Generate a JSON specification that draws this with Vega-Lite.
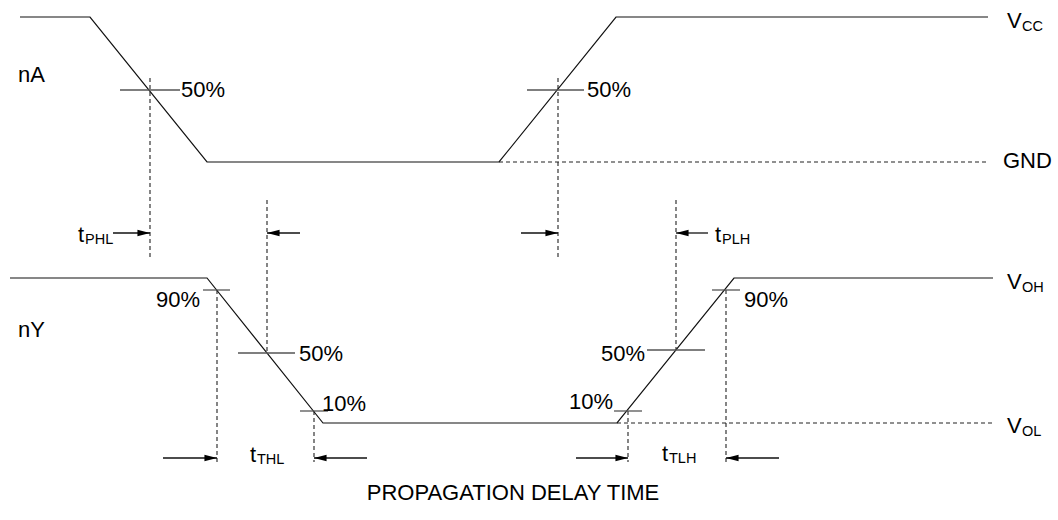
{
  "$schema": "https://vega.github.io/schema/vega-lite/v6.json",
  "width": 1058,
  "height": 520,
  "autosize": {"type": "fit", "contains": "padding"},
  "padding": 0,
  "background": "white",
  "config": {"view": {"stroke": null}, "font": "Liberation Sans"},
  "datasets": {
    "waves": [
      {"sig": "nA", "i": 0, "x": 20, "y": 17},
      {"sig": "nA", "i": 1, "x": 90, "y": 17},
      {"sig": "nA", "i": 2, "x": 207, "y": 162},
      {"sig": "nA", "i": 3, "x": 499, "y": 162},
      {"sig": "nA", "i": 4, "x": 616, "y": 17},
      {"sig": "nA", "i": 5, "x": 988, "y": 17},
      {"sig": "nY", "i": 0, "x": 10, "y": 278},
      {"sig": "nY", "i": 1, "x": 207, "y": 278},
      {"sig": "nY", "i": 2, "x": 323, "y": 423},
      {"sig": "nY", "i": 3, "x": 617, "y": 423},
      {"sig": "nY", "i": 4, "x": 734, "y": 278},
      {"sig": "nY", "i": 5, "x": 993, "y": 278}
    ],
    "dashed": [
      {"x": 499, "y": 162, "x2": 988, "y2": 162},
      {"x": 617, "y": 423, "x2": 993, "y2": 423},
      {"x": 150, "y": 78, "x2": 150, "y2": 258},
      {"x": 558, "y": 78, "x2": 558, "y2": 258},
      {"x": 267, "y": 200, "x2": 267, "y2": 352},
      {"x": 676, "y": 200, "x2": 676, "y2": 350},
      {"x": 217, "y": 290, "x2": 217, "y2": 462},
      {"x": 314, "y": 411, "x2": 314, "y2": 462},
      {"x": 628, "y": 411, "x2": 628, "y2": 462},
      {"x": 726, "y": 290, "x2": 726, "y2": 462}
    ],
    "ticks": [
      {"x": 120, "x2": 180, "y": 90},
      {"x": 527, "x2": 584, "y": 90},
      {"x": 203, "x2": 230, "y": 290},
      {"x": 238, "x2": 295, "y": 353},
      {"x": 300, "x2": 328, "y": 411},
      {"x": 614, "x2": 642, "y": 411},
      {"x": 647, "x2": 705, "y": 350},
      {"x": 712, "x2": 740, "y": 290}
    ],
    "arrows": [
      {"tail": 113, "tip": 150, "y": 233, "dir": "right"},
      {"tail": 300, "tip": 267, "y": 233, "dir": "left"},
      {"tail": 521, "tip": 558, "y": 233, "dir": "right"},
      {"tail": 708, "tip": 676, "y": 233, "dir": "left"},
      {"tail": 163, "tip": 217, "y": 458, "dir": "right"},
      {"tail": 367, "tip": 314, "y": 458, "dir": "left"},
      {"tail": 576, "tip": 628, "y": 458, "dir": "right"},
      {"tail": 779, "tip": 726, "y": 458, "dir": "left"}
    ],
    "labelsL": [
      {"text": "nA", "x": 18, "y": 82},
      {"text": "50%", "x": 181, "y": 97},
      {"text": "50%", "x": 587, "y": 97},
      {"text": "GND", "x": 1003, "y": 168},
      {"text": "nY", "x": 18, "y": 337},
      {"text": "50%", "x": 299, "y": 361},
      {"text": "10%", "x": 322, "y": 411},
      {"text": "90%", "x": 744, "y": 307},
      {"text": "t", "x": 78, "y": 242},
      {"text": "t", "x": 715, "y": 242},
      {"text": "t", "x": 250, "y": 462},
      {"text": "t", "x": 662, "y": 461},
      {"text": "V", "x": 1007, "y": 28},
      {"text": "V", "x": 1007, "y": 289},
      {"text": "V", "x": 1007, "y": 433}
    ],
    "labelsR": [
      {"text": "90%", "x": 200, "y": 307},
      {"text": "10%", "x": 613, "y": 409},
      {"text": "50%", "x": 645, "y": 361}
    ],
    "subs": [
      {"text": "PHL", "x": 85, "y": 244},
      {"text": "PLH", "x": 722, "y": 244},
      {"text": "THL", "x": 257, "y": 464},
      {"text": "TLH", "x": 669, "y": 463},
      {"text": "CC", "x": 1022, "y": 31},
      {"text": "OH", "x": 1022, "y": 292},
      {"text": "OL", "x": 1022, "y": 436}
    ],
    "title": [
      {"text": "PROPAGATION DELAY TIME", "x": 513, "y": 500}
    ]
  },
  "layer": [
    {
      "data": {"name": "dashed"},
      "mark": {"type": "rule", "stroke": "#222", "strokeWidth": 1.1, "strokeDash": [4, 3]},
      "encoding": {
        "x": {"field": "x", "type": "quantitative", "scale": {"domain": [0, 1058], "nice": false, "zero": false}, "axis": null},
        "y": {"field": "y", "type": "quantitative", "scale": {"domain": [0, 520], "nice": false, "zero": false, "reverse": true}, "axis": null},
        "x2": {"field": "x2"},
        "y2": {"field": "y2"}
      }
    },
    {
      "data": {"name": "waves"},
      "mark": {"type": "line", "stroke": "#111", "strokeWidth": 1.2},
      "encoding": {
        "x": {"field": "x", "type": "quantitative", "axis": null},
        "y": {"field": "y", "type": "quantitative", "axis": null},
        "detail": {"field": "sig", "type": "nominal"},
        "order": {"field": "i", "type": "quantitative"}
      }
    },
    {
      "data": {"name": "ticks"},
      "mark": {"type": "rule", "stroke": "#555", "strokeWidth": 1.3},
      "encoding": {
        "x": {"field": "x", "type": "quantitative", "axis": null},
        "x2": {"field": "x2"},
        "y": {"field": "y", "type": "quantitative", "axis": null}
      }
    },
    {
      "data": {"name": "arrows"},
      "mark": {"type": "rule", "stroke": "#111", "strokeWidth": 1.3},
      "encoding": {
        "x": {"field": "tail", "type": "quantitative", "axis": null},
        "x2": {"field": "tip"},
        "y": {"field": "y", "type": "quantitative", "axis": null}
      }
    },
    {
      "data": {"name": "arrows"},
      "mark": {"type": "point", "filled": true, "size": 110, "opacity": 1, "strokeWidth": 0},
      "encoding": {
        "x": {"field": "tip", "type": "quantitative", "axis": null},
        "y": {"field": "y", "type": "quantitative", "axis": null},
        "shape": {"field": "dir", "type": "nominal", "scale": {"domain": ["right", "left"], "range": ["M0,0L-2.4,-0.6L-2.4,0.6Z", "M0,0L2.4,-0.6L2.4,0.6Z"]}, "legend": null},
        "color": {"value": "#000"}
      }
    },
    {
      "data": {"name": "labelsL"},
      "mark": {"type": "text", "align": "left", "baseline": "alphabetic", "fontSize": 22, "color": "#000"},
      "encoding": {
        "x": {"field": "x", "type": "quantitative", "axis": null},
        "y": {"field": "y", "type": "quantitative", "axis": null},
        "text": {"field": "text"}
      }
    },
    {
      "data": {"name": "labelsR"},
      "mark": {"type": "text", "align": "right", "baseline": "alphabetic", "fontSize": 22, "color": "#000"},
      "encoding": {
        "x": {"field": "x", "type": "quantitative", "axis": null},
        "y": {"field": "y", "type": "quantitative", "axis": null},
        "text": {"field": "text"}
      }
    },
    {
      "data": {"name": "subs"},
      "mark": {"type": "text", "align": "left", "baseline": "alphabetic", "fontSize": 14.5, "color": "#000"},
      "encoding": {
        "x": {"field": "x", "type": "quantitative", "axis": null},
        "y": {"field": "y", "type": "quantitative", "axis": null},
        "text": {"field": "text"}
      }
    },
    {
      "data": {"name": "title"},
      "mark": {"type": "text", "align": "center", "baseline": "alphabetic", "fontSize": 22, "color": "#000"},
      "encoding": {
        "x": {"field": "x", "type": "quantitative", "axis": null},
        "y": {"field": "y", "type": "quantitative", "axis": null},
        "text": {"field": "text"}
      }
    }
  ]
}
